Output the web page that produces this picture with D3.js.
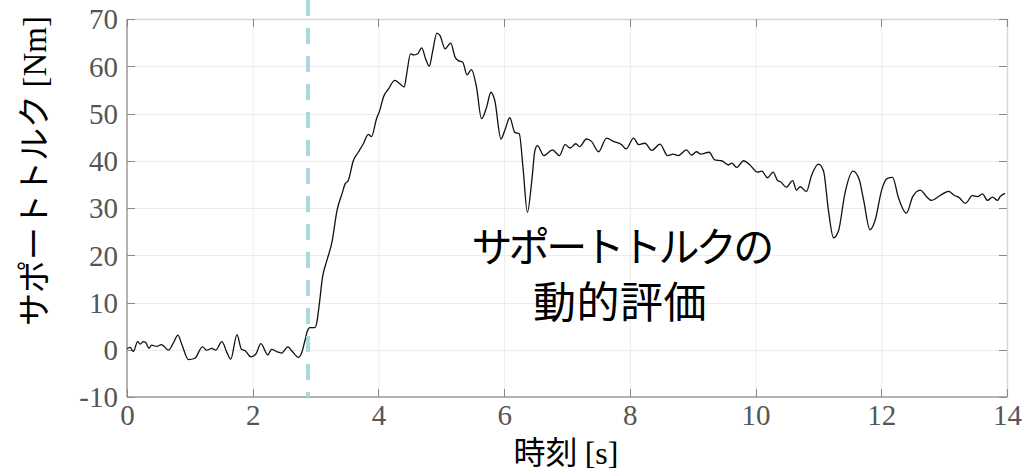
<!DOCTYPE html>
<html>
<head>
<meta charset="utf-8">
<script src="https://cdn.jsdelivr.net/npm/d3@7"></script>
<style>
  html, body { margin: 0; padding: 0; background: #fff; }
  svg { display: block; }
</style>
</head>
<body>
<svg id="chart" width="1026" height="476"></svg>
<script>
// Support torque measurement over time
const timeSec = [
  0.00, 0.05, 0.10, 0.17, 0.21, 0.26, 0.30, 0.35, 0.39, 0.47, 0.55, 0.66, 0.74, 0.81, 0.87, 0.98,
  1.08, 1.20, 1.27, 1.35, 1.41, 1.51, 1.59, 1.65, 1.75, 1.82, 1.88, 1.97, 2.05, 2.13, 2.24, 2.30,
  2.38, 2.46, 2.56, 2.62, 2.73, 2.78, 2.83, 2.87, 2.91, 2.99, 3.02, 3.06, 3.11, 3.18, 3.26, 3.34,
  3.42, 3.47, 3.52, 3.60, 3.68, 3.76, 3.84, 3.89, 3.97, 4.02, 4.08, 4.16, 4.26, 4.34, 4.41, 4.45,
  4.51, 4.56, 4.62, 4.69, 4.75, 4.81, 4.86, 4.93, 4.98, 5.06, 5.15, 5.22, 5.27, 5.34, 5.41, 5.48,
  5.56, 5.64, 5.72, 5.79, 5.85, 5.95, 6.01, 6.09, 6.17, 6.24, 6.30, 6.37, 6.44, 6.49, 6.53, 6.63,
  6.77, 6.88, 6.97, 7.05, 7.14, 7.20, 7.31, 7.39, 7.50, 7.63, 7.74, 7.87, 7.94, 8.06, 8.14, 8.24,
  8.35, 8.48, 8.60, 8.69, 8.77, 8.90, 8.98, 9.06, 9.13, 9.26, 9.35, 9.46, 9.57, 9.62, 9.70, 9.81,
  9.91, 10.03, 10.10, 10.19, 10.28, 10.35, 10.40, 10.49, 10.59, 10.65, 10.71, 10.81, 10.89, 11.00,
  11.08, 11.16, 11.24, 11.32, 11.42, 11.55, 11.65, 11.72, 11.82, 11.90, 12.01, 12.09, 12.18, 12.27,
  12.40, 12.50, 12.62, 12.72, 12.80, 12.93, 13.07, 13.17, 13.23, 13.34, 13.45, 13.53, 13.61, 13.69,
  13.77, 13.85, 13.89, 13.97
];
const torqueNm = [
  0.2, 0.5, -0.4, 1.7, 1.2, 1.7, 1.5, 0.3, 1.0, 0.7, 1.1, -0.1, 1.5, 3.1, 1.2, -2.1,
  -1.8, 0.6, -0.1, 0.3, -0.1, 1.7, -0.6, -2.0, 3.2, 0.1, -0.2, -1.5, -0.9, 1.3, -1.1, 0.1,
  -0.4, -0.7, 0.6, -0.2, -1.6, -0.6, 1.9, 4.0, 4.7, 4.7, 5.8, 9.7, 15.3, 18.9, 22.7, 29.4,
  33.0, 35.1, 35.8, 40.0, 41.8, 43.6, 45.6, 45.1, 48.9, 50.6, 53.5, 55.2, 57.0, 56.3, 55.6, 58.4,
  62.6, 62.4, 62.6, 63.9, 61.6, 60.0, 63.0, 67.0, 66.5, 63.7, 64.9, 61.9, 61.2, 60.9, 58.2, 59.3,
  55.6, 48.9, 51.3, 54.5, 52.8, 44.6, 46.4, 49.1, 46.0, 45.7, 38.6, 29.1, 35.8, 42.2, 43.2, 41.1,
  42.3, 41.1, 43.4, 42.7, 43.6, 43.0, 44.6, 44.1, 41.9, 44.8, 44.1, 43.4, 42.5, 44.8, 43.4, 43.7,
  42.2, 43.5, 41.1, 41.4, 41.1, 42.3, 41.2, 41.9, 41.4, 41.8, 40.2, 40.0, 39.1, 39.5, 38.6, 40.0,
  39.1, 37.6, 37.8, 36.4, 37.6, 35.8, 35.5, 34.4, 35.8, 33.8, 34.5, 33.5, 36.9, 39.3,
  37.9, 29.4, 23.7, 25.2, 33.0, 37.8, 36.0, 31.6, 25.4, 27.3, 34.0, 36.2, 36.5, 32.3,
  28.9, 32.4, 33.8, 32.4, 31.6, 32.6, 33.5, 32.6, 32.3, 31.0, 32.6, 32.4, 33.0, 31.6,
  32.3, 31.6, 32.4, 33.1
];
const xTicks = [0, 2, 4, 6, 8, 10, 12, 14];
const yTicks = [-10, 0, 10, 20, 30, 40, 50, 60, 70];
const markerTime = 2.88;
const xLabel = "時刻";
const xUnit = "[s]";
const yLabel = "サポートトルク";
const yUnit = "[Nm]";
const noteLines = ["サポートトルクの", "動的評価"];

const svg = d3.select("#chart");
const plot = { left: 127, right: 1007, top: 19, bottom: 397 };

const x = d3.scaleLinear().domain([0, 14]).range([plot.left, plot.right]);
const y = d3.scaleLinear().domain([-10, 70]).range([plot.bottom, plot.top]);

const serif = "'Liberation Serif', 'Times New Roman', serif";
const cjk = "'Noto Sans CJK JP', 'Noto Sans', sans-serif";
const plainNumber = d => String(d);

// grid
const grid = svg.append("g").attr("stroke", "#ececec").attr("stroke-width", 1);
grid.selectAll("line.gx").data(xTicks.slice(1, -1)).join("line")
  .attr("x1", d => x(d) + 0.5).attr("x2", d => x(d) + 0.5)
  .attr("y1", plot.top).attr("y2", plot.bottom);
grid.selectAll("line.gy").data(yTicks.slice(1, -1)).join("line")
  .attr("x1", plot.left).attr("x2", plot.right)
  .attr("y1", d => Math.round(y(d)) + 0.5).attr("y2", d => Math.round(y(d)) + 0.5);

// axes (box with inward ticks)
const tickLen = 8;
const xAxisB = d3.axisBottom(x).tickValues(xTicks).tickSize(0).tickPadding(7).tickFormat(plainNumber);
const yAxisL = d3.axisLeft(y).tickValues(yTicks).tickSize(0).tickPadding(9).tickFormat(plainNumber);

const gx = svg.append("g").attr("transform", `translate(0,${plot.bottom})`).call(xAxisB);
const gy = svg.append("g").attr("transform", `translate(${plot.left},0)`).call(yAxisL);
[gx, gy].forEach(g => {
  g.select(".domain").remove();
  g.selectAll("text")
    .attr("font-family", serif).attr("font-size", 29).attr("fill", "#555");
});
gy.selectAll("text").attr("dy", "0.34em");
gx.selectAll("text").attr("dy", "0.72em");

// frame lines
svg.append("line").attr("x1", plot.left).attr("x2", plot.right)
  .attr("y1", plot.top + 0.5).attr("y2", plot.top + 0.5).attr("stroke", "#d6d6d6").attr("stroke-width", 1.5);
svg.append("line").attr("x1", plot.right + 0.5).attr("x2", plot.right + 0.5)
  .attr("y1", plot.top).attr("y2", plot.bottom).attr("stroke", "#d6d6d6").attr("stroke-width", 1.5);
svg.append("line").attr("x1", plot.left).attr("x2", plot.right)
  .attr("y1", plot.bottom).attr("y2", plot.bottom).attr("stroke", "#9a9a9a").attr("stroke-width", 1.5);
svg.append("line").attr("x1", plot.left).attr("x2", plot.left)
  .attr("y1", plot.top).attr("y2", plot.bottom).attr("stroke", "#9a9a9a").attr("stroke-width", 1.5);

// inward tick marks on all four sides
const ticks = svg.append("g").attr("stroke", "#8a8a8a").attr("stroke-width", 1);
ticks.selectAll("line.tl").data(yTicks).join("line")
  .attr("x1", plot.left).attr("x2", plot.left + tickLen)
  .attr("y1", d => Math.round(y(d)) + 0.5).attr("y2", d => Math.round(y(d)) + 0.5);
ticks.selectAll("line.tr").data(yTicks).join("line")
  .attr("x1", plot.right - tickLen).attr("x2", plot.right)
  .attr("y1", d => Math.round(y(d)) + 0.5).attr("y2", d => Math.round(y(d)) + 0.5);
ticks.selectAll("line.tb").data(xTicks).join("line")
  .attr("x1", d => Math.round(x(d)) + 0.5).attr("x2", d => Math.round(x(d)) + 0.5)
  .attr("y1", plot.bottom - tickLen).attr("y2", plot.bottom);
ticks.selectAll("line.tt").data(xTicks).join("line")
  .attr("x1", d => Math.round(x(d)) + 0.5).attr("x2", d => Math.round(x(d)) + 0.5)
  .attr("y1", plot.top).attr("y2", plot.top + tickLen);

// torque trace
const series = timeSec.map((t, i) => ({ t, v: torqueNm[i] }));
const line = d3.line().x(d => x(d.t)).y(d => y(d.v)).curve(d3.curveMonotoneX);
svg.append("path").datum(series)
  .attr("d", line).attr("fill", "none")
  .attr("stroke", "#111").attr("stroke-width", 1.3).attr("stroke-linejoin", "round");

// onset marker
svg.append("line")
  .attr("x1", x(markerTime)).attr("x2", x(markerTime))
  .attr("y1", 0).attr("y2", plot.bottom)
  .attr("stroke", "#a8d9de").attr("stroke-width", 4)
  .attr("stroke-dasharray", "16 12");

// axis titles
const xt = svg.append("text")
  .attr("x", 566).attr("y", 464).attr("text-anchor", "middle")
  .attr("font-size", 32).attr("fill", "#000");
xt.append("tspan").attr("font-family", cjk).text(xLabel + " ");
xt.append("tspan").attr("font-family", serif).text(xUnit);

const yt = svg.append("text")
  .attr("transform", "translate(46,171) rotate(-90)").attr("text-anchor", "middle")
  .attr("font-size", 33).attr("fill", "#000");
yt.append("tspan").attr("font-family", cjk).text(yLabel + " ");
yt.append("tspan").attr("font-family", serif).text(yUnit);

// two-line annotation
const note = svg.append("g").attr("font-family", cjk).attr("fill", "#000")
  .attr("text-anchor", "middle");
note.append("text").attr("x", 621).attr("y", 262).attr("font-size", 41)
  .attr("letter-spacing", "-3.6px").text(noteLines[0]);
note.append("text").attr("x", 620).attr("y", 318).attr("font-size", 43)
  .attr("letter-spacing", "0.5px").text(noteLines[1]);
</script>
</body>
</html>
